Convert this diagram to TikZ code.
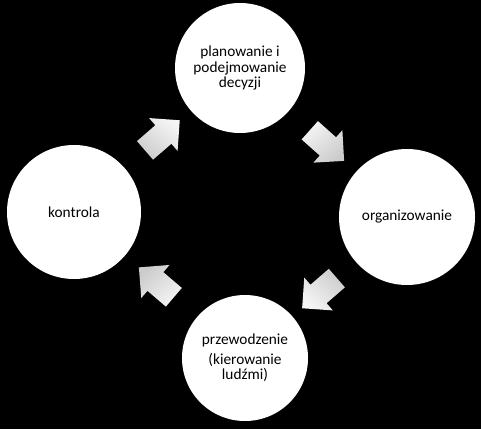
\documentclass[tikz,border=0pt]{standalone}
\usepackage{fontspec}
\setmainfont{Carlito}
\usetikzlibrary{shapes.arrows,calc}

\tikzset{
  kolo/.style={circle, fill=white, inner sep=0pt, align=center, font=\fontsize{11.5pt}{11.7pt}\selectfont},
  strzalka/.style={single arrow, single arrow head extend=7.1pt, inner sep=9pt, minimum height=34.5pt, top color=white!96!black, bottom color=white!80!black}
}

\begin{document}
\begin{tikzpicture}[x=0.75pt, y=0.75pt]
                    % Tlo
                    \fill[black] (0,0) rectangle (481,429);
                    % Etapy zarzadzania
                    \node[kolo, minimum size=97.5pt] (planowanie) at (240,361) {planowanie i\\podejmowanie\\decyzji};
                    \node[kolo, minimum size=102pt] (organizowanie) at (407,212) {organizowanie};
                    \node[kolo, minimum size=94.5pt] (przewodzenie) at (245,71) {przewodzenie\\[3pt](kierowanie\\ludźmi)};
                    \node[kolo, minimum size=100.5pt] (kontrola) at (74,217) {kontrola};
                    % Strzalki cyklu
                    \path let \p1 = ($(planowanie)-(kontrola)$), \n1 = {atan2(\y1,\x1)} in
                      (kontrola) -- node[strzalka, sloped, allow upside down, shading angle=-\n1] {} (planowanie);
                    \path let \p1 = ($(organizowanie)-(planowanie)$), \n1 = {atan2(\y1,\x1)} in
                      (planowanie) -- node[strzalka, sloped, allow upside down, shading angle=-\n1] {} (organizowanie);
                    \path let \p1 = ($(przewodzenie)-(organizowanie)$), \n1 = {atan2(\y1,\x1)} in
                      (organizowanie) -- node[strzalka, sloped, allow upside down, shading angle=-\n1] {} (przewodzenie);
                    \path let \p1 = ($(kontrola)-(przewodzenie)$), \n1 = {atan2(\y1,\x1)} in
                      (przewodzenie) -- node[strzalka, sloped, allow upside down, shading angle=-\n1] {} (kontrola);
                \end{tikzpicture}
\end{document}
